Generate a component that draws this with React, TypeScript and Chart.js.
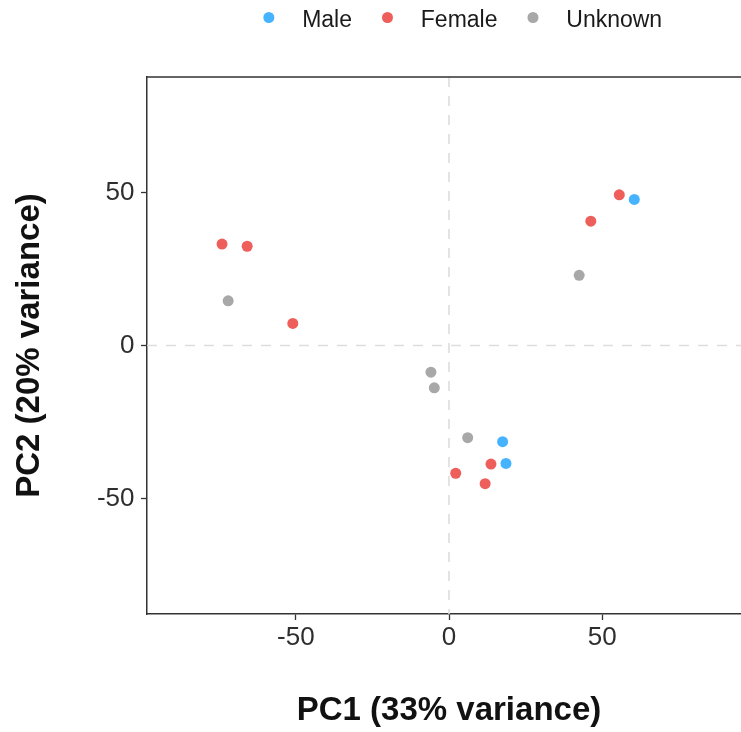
import React, { useEffect, useRef } from "react";
import { Chart, registerables } from "chart.js";

Chart.register(...registerables);

const SERIES_NAMES = ["Male", "Female", "Unknown"];
const SERIES_COLORS = ["#46B3FF", "#EE5F5B", "#A8A8A8"];

const MALE_PC1 = [17.5, 18.6, 60.5];
const MALE_PC2 = [-31.4, -38.5, 47.7];
const FEMALE_PC1 = [-74.1, -65.9, -51.0, 55.6, 46.3, 13.7, 2.2, 11.8];
const FEMALE_PC2 = [33.1, 32.4, 7.2, 49.2, 40.6, -38.7, -41.7, -45.1];
const UNKNOWN_PC1 = [-72.1, -5.9, -4.8, 6.1, 42.5];
const UNKNOWN_PC2 = [14.6, -8.7, -13.8, -30.1, 22.9];

const X_TICKS = [-50, 0, 50];
const Y_TICKS = [-50, 0, 50];
const X_RANGE = [-98.6, 98.6];
const Y_RANGE = [-87.65, 87.65];
const X_TITLE = "PC1 (33% variance)";
const Y_TITLE = "PC2 (20% variance)";

const FONT = "'Liberation Sans', Arial, Helvetica, sans-serif";

const toPoints = (xs: number[], ys: number[]) => xs.map((x, i) => ({ x, y: ys[i] }));

const zeroLinesPlugin = {
  id: "zeroLines",
  beforeDatasetsDraw(chart: any) {
    const { ctx, chartArea: a, scales } = chart;
    const x0 = scales.x.getPixelForValue(0);
    const y0 = scales.y.getPixelForValue(0);
    ctx.save();
    ctx.beginPath();
    ctx.rect(a.left, a.top, a.right - a.left, a.bottom - a.top);
    ctx.clip();
    ctx.strokeStyle = "#DDDDDD";
    ctx.lineWidth = 1.6;
    ctx.setLineDash([10, 9]);
    ctx.beginPath();
    ctx.moveTo(x0, a.top);
    ctx.lineTo(x0, a.bottom);
    ctx.stroke();
    ctx.beginPath();
    ctx.moveTo(a.left, y0);
    ctx.lineTo(a.right, y0);
    ctx.stroke();
    ctx.restore();
  },
};

const panelBorderPlugin = {
  id: "panelBorder",
  afterDraw(chart: any) {
    const { ctx, chartArea: a } = chart;
    ctx.save();
    ctx.strokeStyle = "#333333";
    ctx.lineWidth = 1.5;
    ctx.beginPath();
    ctx.moveTo(a.left, a.top);
    ctx.lineTo(a.right, a.top);
    ctx.lineTo(a.right, a.bottom);
    ctx.stroke();
    ctx.restore();
  },
};

const legendPlugin = {
  id: "topLegend",
  afterDraw(chart: any) {
    const { ctx } = chart;
    const fontSize = 23;
    const dotR = 5.5;
    const dotToText = 33.3;
    const itemGap = 35.5;
    const centerX = 465.5;
    const dotY = 17.5;
    const textBaseline = 26.7;
    ctx.save();
    ctx.font = `${fontSize}px ${FONT}`;
    const ds = chart.data.datasets;
    const widths = ds.map((d: any) => ctx.measureText(d.label).width);
    let span = 0;
    widths.forEach((w: number, i: number) => {
      span += dotToText + w + (i < widths.length - 1 ? itemGap : 0);
    });
    let cx = centerX - span / 2;
    ds.forEach((d: any, i: number) => {
      ctx.fillStyle = d.backgroundColor;
      ctx.beginPath();
      ctx.arc(cx, dotY, dotR, 0, Math.PI * 2);
      ctx.fill();
      ctx.fillStyle = "#1A1A1A";
      ctx.textAlign = "left";
      ctx.textBaseline = "alphabetic";
      ctx.fillText(d.label, cx + dotToText, textBaseline);
      cx += dotToText + widths[i] + itemGap;
    });
    ctx.restore();
  },
};

export default function App() {
  const canvasRef = useRef<HTMLCanvasElement | null>(null);

  useEffect(() => {
    const canvas = canvasRef.current;
    if (!canvas) return;
    const seriesX = [MALE_PC1, FEMALE_PC1, UNKNOWN_PC1];
    const seriesY = [MALE_PC2, FEMALE_PC2, UNKNOWN_PC2];
    const chart = new Chart(canvas, {
      type: "scatter",
      data: {
        datasets: SERIES_NAMES.map((name, i) => ({
          label: name,
          data: toPoints(seriesX[i], seriesY[i]),
          backgroundColor: SERIES_COLORS[i],
          borderColor: SERIES_COLORS[i],
          borderWidth: 0,
          pointRadius: 5.5,
          pointHoverRadius: 5.5,
        })),
      },
      options: {
        responsive: false,
        animation: false,
        layout: { padding: { top: 77, left: 0, right: 9, bottom: 0 } },
        plugins: {
          legend: { display: false },
          tooltip: { enabled: false },
        },
        scales: {
          x: {
            type: "linear",
            min: X_RANGE[0],
            max: X_RANGE[1],
            afterBuildTicks: (s: any) => {
              s.ticks = X_TICKS.map((v) => ({ value: v }));
            },
            afterFit: (s: any) => {
              s.height = 118;
            },
            grid: {
              drawOnChartArea: false,
              drawTicks: true,
              tickLength: 6,
              tickColor: "#333333",
              tickWidth: 1.3,
            },
            border: { display: true, color: "#333333", width: 1.5 },
            ticks: {
              color: "#2E2E2E",
              padding: 2.5,
              font: { family: FONT, size: 26 },
              maxRotation: 0,
            },
            title: {
              display: true,
              text: X_TITLE,
              color: "#111111",
              font: { family: FONT, size: 33, weight: "bold" },
              padding: { top: 0, bottom: 1 },
            },
          },
          y: {
            type: "linear",
            min: Y_RANGE[0],
            max: Y_RANGE[1],
            afterBuildTicks: (s: any) => {
              s.ticks = Y_TICKS.map((v) => ({ value: v }));
            },
            afterFit: (s: any) => {
              s.width = 147;
            },
            grid: {
              drawOnChartArea: false,
              drawTicks: true,
              tickLength: 6,
              tickColor: "#333333",
              tickWidth: 1.3,
            },
            border: { display: true, color: "#333333", width: 1.5 },
            ticks: {
              color: "#2E2E2E",
              padding: 6.5,
              font: { family: FONT, size: 26 },
            },
            title: {
              display: true,
              text: Y_TITLE,
              color: "#111111",
              font: { family: FONT, size: 33, weight: "bold" },
              padding: { top: 10, bottom: 0 },
            },
          },
        },
      },
      plugins: [zeroLinesPlugin, panelBorderPlugin, legendPlugin],
    } as any);
    return () => chart.destroy();
  }, []);

  return (
    <div
      style={{
        position: "fixed",
        left: 0,
        top: 0,
        width: 741,
        height: 732,
        overflow: "hidden",
        background: "#ffffff",
      }}
    >
      <canvas ref={canvasRef} width={760} height={732} style={{ display: "block", width: 760, height: 732 }} />
    </div>
  );
}
